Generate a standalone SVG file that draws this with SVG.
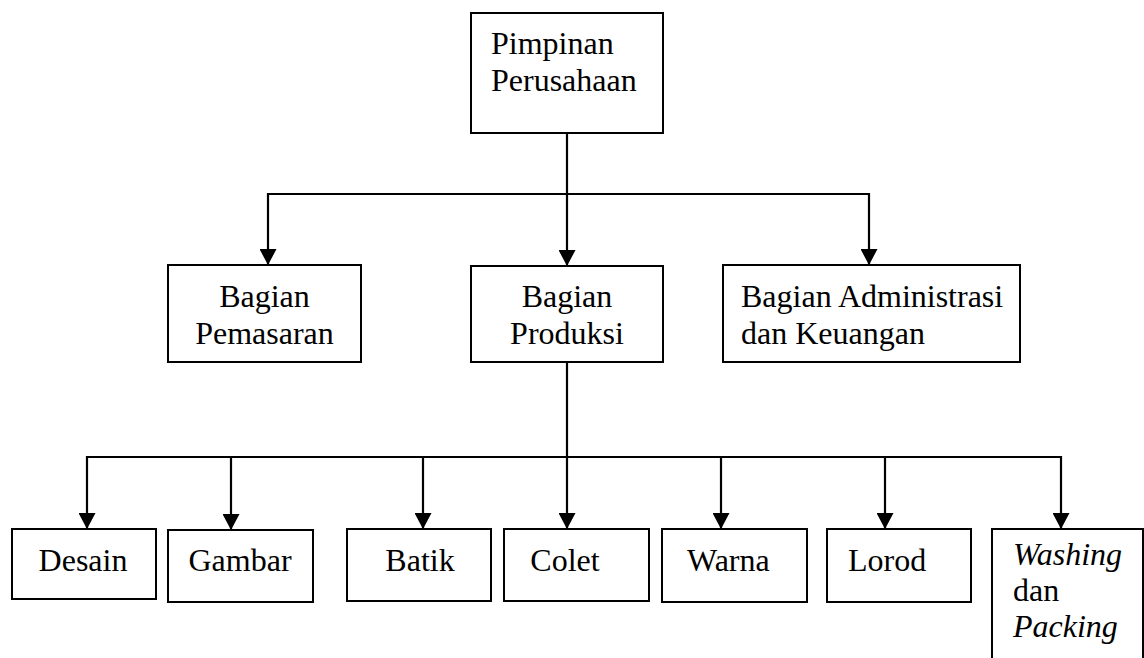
<svg xmlns="http://www.w3.org/2000/svg" width="1144" height="658" viewBox="0 0 1144 658">
<style>
.box{fill:#fff;stroke:#000;stroke-width:2}
.t{font-family:"Liberation Serif","Times New Roman",serif;font-size:32px;fill:#000}
.c{text-anchor:middle}
.i{font-style:italic}
.ln{fill:none;stroke:#000;stroke-width:2.2}
</style>
<defs>
<marker id="ah" markerUnits="userSpaceOnUse" markerWidth="17" markerHeight="17" refX="16" refY="8.5" orient="auto">
<path d="M0,0 L16,8.5 L0,17 z" fill="#000"/>
</marker>
</defs>
<rect width="1144" height="658" fill="#fff"/>
<g id="connectors">
<path class="ln" d="M567,133 V194"/>
<path class="ln" d="M268,194 H869"/>
<path class="ln" d="M268,193 V265" marker-end="url(#ah)"/>
<path class="ln" d="M567,194 V266" marker-end="url(#ah)"/>
<path class="ln" d="M869,193 V265" marker-end="url(#ah)"/>
<path class="ln" d="M567,362 V457"/>
<path class="ln" d="M87,457 H1061"/>
<path class="ln" d="M87,456 V529" marker-end="url(#ah)"/>
<path class="ln" d="M231,457 V530" marker-end="url(#ah)"/>
<path class="ln" d="M423,457 V529" marker-end="url(#ah)"/>
<path class="ln" d="M567,457 V529" marker-end="url(#ah)"/>
<path class="ln" d="M721,457 V529" marker-end="url(#ah)"/>
<path class="ln" d="M885,457 V529" marker-end="url(#ah)"/>
<path class="ln" d="M1061,456 V529" marker-end="url(#ah)"/>
</g>
<g id="pimpinan">
<rect class="box" x="471" y="13" width="192" height="120"/>
<text class="t" x="491" y="54">Pimpinan</text>
<text class="t" x="491" y="91">Perusahaan</text>
</g>
<g id="pemasaran">
<rect class="box" x="168" y="265" width="193" height="97"/>
<text class="t c" x="264.5" y="307">Bagian</text>
<text class="t c" x="264.5" y="344">Pemasaran</text>
</g>
<g id="produksi">
<rect class="box" x="471" y="266" width="192" height="96"/>
<text class="t c" x="567" y="307">Bagian</text>
<text class="t c" x="567" y="344">Produksi</text>
</g>
<g id="administrasi">
<rect class="box" x="723" y="265" width="297" height="97"/>
<text class="t" x="741" y="307">Bagian Administrasi</text>
<text class="t" x="741" y="344">dan Keuangan</text>
</g>
<g id="desain">
<rect class="box" x="12" y="529" width="144" height="70"/>
<text class="t c" x="83" y="571">Desain</text>
</g>
<g id="gambar">
<rect class="box" x="168" y="530" width="145" height="72"/>
<text class="t c" x="240" y="571">Gambar</text>
</g>
<g id="batik">
<rect class="box" x="347" y="529" width="144" height="72"/>
<text class="t c" x="420" y="571">Batik</text>
</g>
<g id="colet">
<rect class="box" x="504" y="529" width="145" height="72"/>
<text class="t c" x="565" y="571">Colet</text>
</g>
<g id="warna">
<rect class="box" x="662" y="529" width="145" height="73"/>
<text class="t" x="687" y="571">Warna</text>
</g>
<g id="lorod">
<rect class="box" x="827" y="529" width="144" height="73"/>
<text class="t" x="848" y="571">Lorod</text>
</g>
<g id="washing">
<rect class="box" x="992" y="529" width="151" height="140"/>
<text class="t" x="1013" y="565"><tspan class="i">Washing</tspan></text>
<text class="t" x="1013" y="601">dan</text>
<text class="t" x="1013" y="637"><tspan class="i">Packing</tspan></text>
</g>
</svg>
